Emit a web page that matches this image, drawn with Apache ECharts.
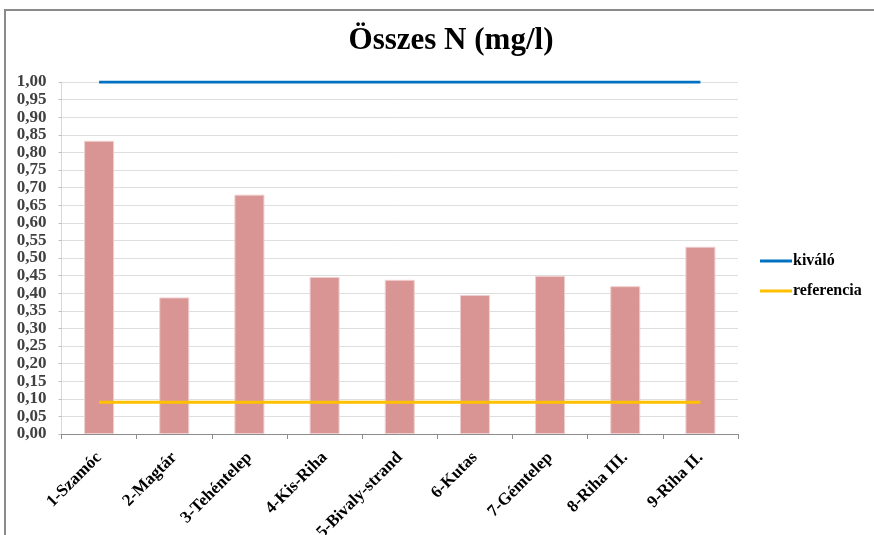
<!DOCTYPE html>
<html>
<head>
<meta charset="utf-8">
<script src="https://cdn.jsdelivr.net/npm/echarts@6/dist/echarts.min.js"></script>
<style>
  html, body { margin: 0; padding: 0; background: #fff; }
  #frame { position: absolute; left: 4px; top: 9px; width: 880px; height: 540px;
           border-left: 2px solid #8a8a8a; border-top: 2px solid #8a8a8a; }
  #chart { position: absolute; left: 0; top: 0; width: 874px; height: 535px; }
</style>
</head>
<body>
<div id="frame"></div>
<div id="chart"></div>
<script>
// Sampling sites
const categories = ['1-Szamóc', '2-Magtár', '3-Tehéntelep', '4-Kis-Riha', '5-Bivaly-strand',
                    '6-Kutas', '7-Gémtelep', '8-Riha III.', '9-Riha II.'];
// Total nitrogen, mg/l
const osszesN = [0.833, 0.388, 0.68, 0.446, 0.438, 0.395, 0.449, 0.42, 0.532];
// Class limits
const kivalo = [1.00, 1.00, 1.00, 1.00, 1.00, 1.00, 1.00, 1.00, 1.00];
const referencia = [0.09, 0.09, 0.09, 0.09, 0.09, 0.09, 0.09, 0.09, 0.09];

const serif = '"Liberation Serif", "Times New Roman", serif';

const chart = echarts.init(document.getElementById('chart'), null, { renderer: 'canvas' });
chart.setOption({
  animation: false,
  backgroundColor: 'transparent',
  title: {
    text: 'Összes N (mg/l)',
    left: 446, top: 20, textAlign: 'center',
    textStyle: { fontFamily: serif, fontWeight: 'bold', fontSize: 31, color: '#000' }
  },
  legend: {
    data: ['kiváló', 'referencia'],
    orient: 'vertical',
    left: 755, top: 248,
    itemWidth: 32, itemHeight: 3, itemGap: 14,
    icon: 'rect',
    textStyle: { fontFamily: serif, fontWeight: 'bold', fontSize: 16, color: '#000', padding: [0, 0, 0, -4] }
  },
  grid: { left: 61.5, right: 136, top: 82, bottom: 101, containLabel: false, outerBoundsMode: 'none' },
  xAxis: {
    type: 'category',
    data: categories,
    boundaryGap: true,
    axisLine: { lineStyle: { color: '#8c8c8c', width: 1 } },
    axisTick: { show: true, interval: 0, length: 5, lineStyle: { color: '#8c8c8c' } },
    axisLabel: {
      interval: 0, rotate: 45, margin: 21,
      fontFamily: serif, fontWeight: 'bold', fontSize: 17, color: '#000'
    }
  },
  yAxis: {
    type: 'value',
    min: 0, max: 1, interval: 0.05,
    axisLine: { show: true, lineStyle: { color: '#d9d9d9' } },
    axisTick: { show: true, length: 3, lineStyle: { color: '#bfbfbf' } },
    splitLine: { lineStyle: { color: '#dedede', width: 1 } },
    axisLabel: {
      margin: 15,
      fontFamily: serif, fontWeight: 'bold', fontSize: 17, color: '#404040',
      formatter: v => v.toFixed(2).replace('.', ',')
    }
  },
  series: [
    {
      name: 'Összes N',
      type: 'bar',
      data: osszesN,
      barWidth: 30,
      itemStyle: { color: '#d99594', borderColor: '#efcfcf', borderWidth: 1 }
    },
    {
      name: 'kiváló',
      type: 'line',
      data: kivalo,
      symbol: 'none',
      lineStyle: { color: '#0070c0', width: 3 },
      itemStyle: { color: '#0070c0' }
    },
    {
      name: 'referencia',
      type: 'line',
      data: referencia,
      symbol: 'none',
      lineStyle: { color: '#ffc000', width: 3 },
      itemStyle: { color: '#ffc000' }
    }
  ]
});
</script>
</body>
</html>
